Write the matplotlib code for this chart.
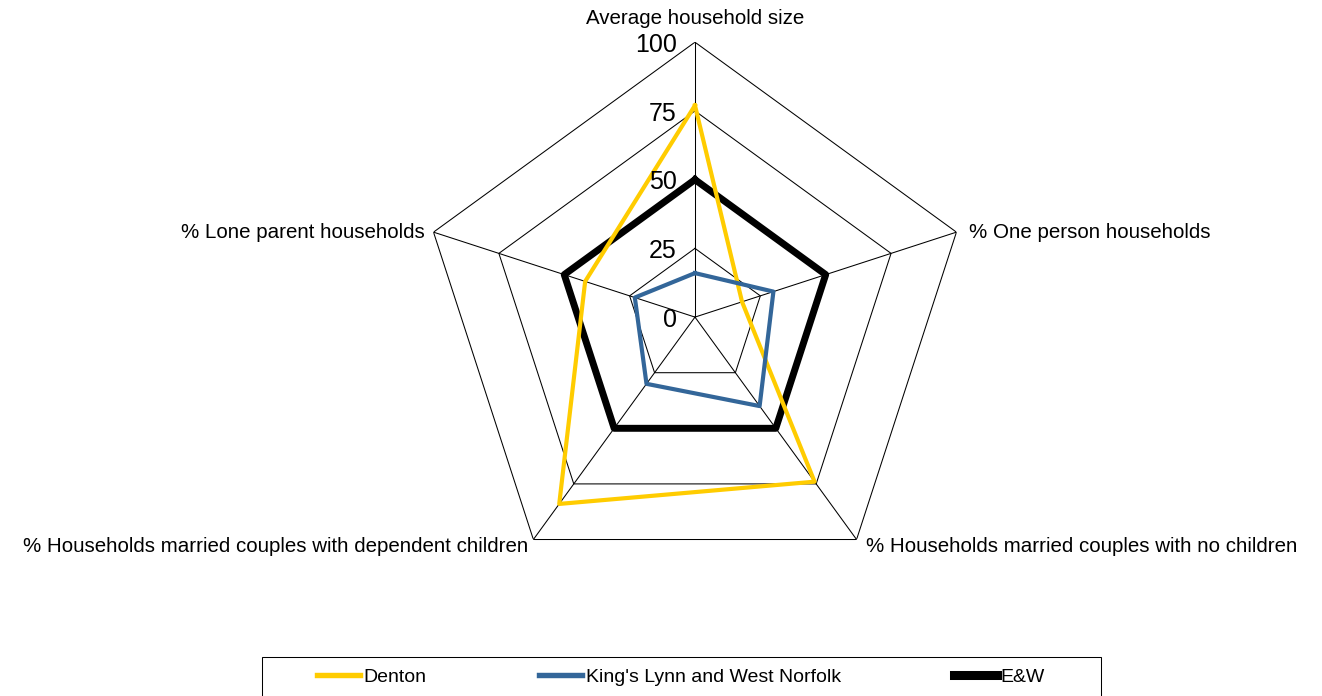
import numpy as np
import matplotlib.pyplot as plt
from matplotlib.patches import Rectangle

plt.rcParams['font.family'] = ['Liberation Sans', 'DejaVu Sans']

# categories, clockwise from the top
categories = ['Average household size', '% One person households',
              '% Households married couples with no children',
              '% Households married couples with dependent children',
              '% Lone parent households']
denton = [77, 18, 74, 84, 42]
kings_lynn = [16, 30, 40, 30, 23]
ew = [50, 50, 50, 50, 50]
levels = [0, 25, 50, 75, 100]

angles = [2 * np.pi * i / len(categories) for i in range(len(categories))]
closed = angles + [angles[0]]

fig = plt.figure(figsize=(13.22, 6.96), dpi=100)
ax = fig.add_axes([0.3177, 0.1494, 0.416, 0.790], projection='polar')
ax.set_theta_offset(np.pi / 2)
ax.set_theta_direction(-1)
ax.set_ylim(0, 100)
ax.grid(False)
ax.set_xticks([])
ax.set_yticks([])
ax.spines['polar'].set_visible(False)
ax.patch.set_visible(False)

# pentagon grid and spokes
for lv in levels[1:]:
    ax.plot(closed, [lv] * len(closed), color='black', lw=0.75, zorder=1)
for a in angles:
    ax.plot([a, a], [0, 100], color='black', lw=0.75, zorder=1)

# series
ax.plot(closed, denton + denton[:1], color='#FFCC00', lw=3, label='Denton', zorder=3)
ax.plot(closed, kings_lynn + kings_lynn[:1], color='#336699', lw=3,
        label="King's Lynn and West Norfolk", zorder=3)
ax.plot(closed, ew + ew[:1], color='black', lw=5, label='E&W', zorder=2)

# value labels along the top axis
for lv in levels:
    ax.annotate(str(lv), xy=(0, lv), xytext=(-13, -2), textcoords='offset points',
                ha='right', va='center', fontsize=18)

# category labels
offsets = [((0, 17), 'center'), ((9, 0), 'left'), ((7, -5), 'left'),
           ((-4, -5), 'right'), ((-6, 0), 'right')]
for a, name, (off, ha) in zip(angles, categories, offsets):
    ax.annotate(name, xy=(a, 100), xytext=off, textcoords='offset points',
                ha=ha, va='center', fontsize=14.8)

# legend
leg = fig.legend(loc='center left', bbox_to_anchor=(317 / 1322, 1 - 677 / 696),
                 ncol=3, frameon=False, fontsize=14, handlelength=2.2,
                 handletextpad=0.2, columnspacing=5.8, borderpad=0, borderaxespad=0)
for line in leg.get_lines():
    line.set_linewidth(line.get_linewidth() * 1.3)
fig.patches.append(Rectangle((262 / 1322, -0.05), 839 / 1322, 0.05 + 39 / 696,
                             transform=fig.transFigure, fill=False,
                             edgecolor='black', lw=0.75))

fig.savefig('out.png', dpi=100)
